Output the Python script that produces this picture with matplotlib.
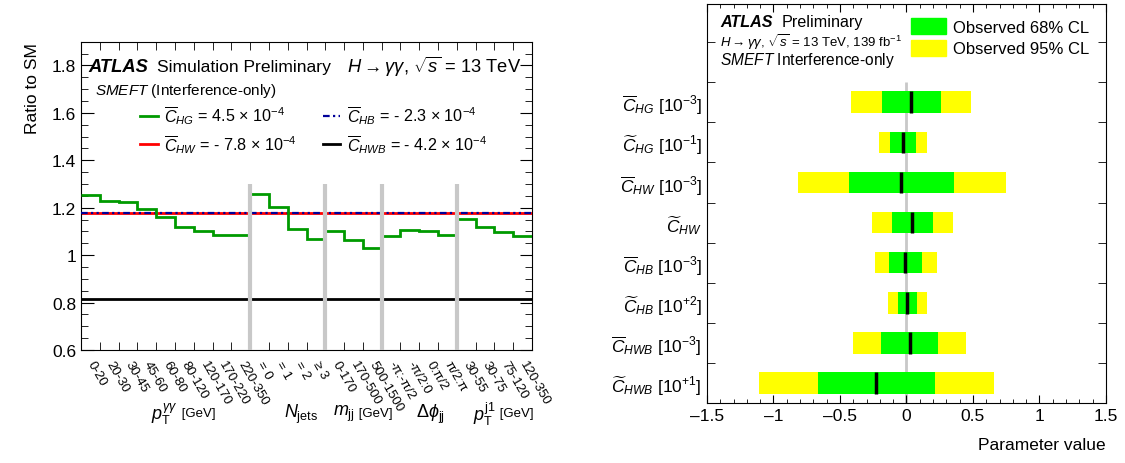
import numpy as np
import matplotlib
matplotlib.use("Agg")
import matplotlib.pyplot as plt
from matplotlib.lines import Line2D
from matplotlib.patches import Patch
from matplotlib.ticker import MultipleLocator, FixedLocator, FuncFormatter

plt.rcParams['font.family'] = ['Liberation Sans', 'DejaVu Sans']
plt.rcParams['mathtext.fontset'] = 'custom'
plt.rcParams['mathtext.rm'] = 'Liberation Sans'
plt.rcParams['mathtext.it'] = 'Liberation Sans:italic'
plt.rcParams['mathtext.bf'] = 'Liberation Sans:bold'

# --- painel esquerdo: razao ao SM por bin ---
bin_labels = ['0-20', '20-30', '30-45', '45-60', '60-80', '80-120', '120-170',
              '170-220', '220-350', '= 0', '= 1', '= 2', '\u2265 3',
              '0-170', '170-500', '500-1500', '-\u03c0:-\u03c0/2', '-\u03c0/2:0',
              '0:\u03c0/2', '\u03c0/2:\u03c0', '30-55', '30-75', '75-120', '120-350']
group_sizes = [9, 4, 3, 4, 4]
ratio_chg = [1.255, 1.227, 1.224, 1.193, 1.161, 1.120, 1.103, 1.087, 1.084,
             1.258, 1.202, 1.111, 1.066,
             1.101, 1.065, 1.031,
             1.082, 1.106, 1.103, 1.086,
             1.153, 1.117, 1.097, 1.082]
ratio_chw = 1.177
ratio_chb = 1.177
ratio_chwb = 0.815

# --- painel direito: intervalos dos parametros ---
param_labels = [r'$\overline{C}_{HG}$ [10$^{-3}$]', r'$\widetilde{C}_{HG}$ [10$^{-1}$]',
                r'$\overline{C}_{HW}$ [10$^{-3}$]', r'$\widetilde{C}_{HW}$',
                r'$\overline{C}_{HB}$ [10$^{-3}$]', r'$\widetilde{C}_{HB}$ [10$^{+2}$]',
                r'$\overline{C}_{HWB}$ [10$^{-3}$]', r'$\widetilde{C}_{HWB}$ [10$^{+1}$]']
best_fit = [0.032, -0.028, -0.038, 0.042, -0.008, 0.005, 0.023, -0.229]
cl68_lo = [-0.186, -0.121, -0.430, -0.108, -0.128, -0.063, -0.188, -0.668]
cl68_hi = [0.258, 0.068, 0.356, 0.198, 0.115, 0.078, 0.236, 0.216]
cl95_lo = [-0.420, -0.209, -0.819, -0.259, -0.239, -0.138, -0.400, -1.108]
cl95_hi = [0.485, 0.153, 0.748, 0.350, 0.228, 0.153, 0.447, 0.658]

fig = plt.figure(figsize=(11.25, 4.64), dpi=100)

# ================= painel esquerdo =================
ax = fig.add_axes([0.072, 0.2435, 0.4009, 0.6645])
nbins = len(bin_labels)
edges = np.arange(nbins + 1)
centers = edges[:-1] + 0.5

ax.hlines(ratio_chwb, 0, nbins, color='black', lw=2, zorder=2)
ax.hlines(ratio_chw, 0, nbins, color='#ff0000', lw=2, zorder=2)
ax.hlines(ratio_chb, 0, nbins, color='#000099', lw=1.6,
          linestyles=[(0, (3, 1.5, 1, 1.5, 1, 1.5))], zorder=3)
ax.stairs(ratio_chg, edges, baseline=None, color='#009a00', lw=2, zorder=4)

seps = np.cumsum(group_sizes)[:-1]
ax.vlines(seps, 0.6, 1.30, color='#c8c8c8', lw=3, zorder=5)

ax.set_xlim(0, nbins)
ax.set_ylim(0.6, 1.9)
ax.set_xticks(centers)
ax.set_xticklabels(bin_labels, rotation=-60, ha='left', va='center',
                   rotation_mode='anchor', fontsize=9.5)
ax.xaxis.set_minor_locator(FixedLocator(edges[1:-1]))
ax.tick_params(axis='x', which='major', length=0, pad=8)
ax.tick_params(axis='x', which='minor', direction='in', length=6, top=True, bottom=True)
ax.yaxis.set_major_locator(MultipleLocator(0.2))
ax.yaxis.set_minor_locator(MultipleLocator(0.05))
ax.yaxis.set_major_formatter(FuncFormatter(lambda v, p: '%g' % round(v, 2)))
ax.tick_params(axis='y', which='major', direction='in', length=9, right=True, labelsize=12.5)
ax.tick_params(axis='y', which='minor', direction='in', length=5, right=True)
ax.set_ylabel('Ratio to SM', fontsize=12.5, loc='top')
ax.yaxis.set_label_coords(-0.09, 1.0)

ax.text(0.0155, 0.921, 'ATLAS', transform=ax.transAxes, fontsize=13.2,
        fontweight='bold', fontstyle='italic', va='center')
ax.text(0.168, 0.921, 'Simulation Preliminary', transform=ax.transAxes,
        fontsize=12.6, va='center')
ax.text(0.975, 0.921, r'$H \rightarrow \gamma\gamma$, $\sqrt{s}$ = 13 TeV',
        transform=ax.transAxes, fontsize=13.2, va='center', ha='right')
ax.text(0.031, 0.843, r'$SMEFT$ (Interference-only)', transform=ax.transAxes,
        fontsize=11, va='center')

handles = [Line2D([], [], color='#009a00', lw=2),
           Line2D([], [], color='#ff0000', lw=2),
           Line2D([], [], color='#000099', lw=1.6, ls=(0, (3, 1.5, 1, 1.5, 1, 1.5))),
           Line2D([], [], color='black', lw=2)]
labels = [r'$\overline{C}_{HG}$ = 4.5 $\times$ 10$^{-4}$',
          r'$\overline{C}_{HW}$ = - 7.8 $\times$ 10$^{-4}$',
          r'$\overline{C}_{HB}$ = - 2.3 $\times$ 10$^{-4}$',
          r'$\overline{C}_{HWB}$ = - 4.2 $\times$ 10$^{-4}$']
ax.legend(handles, labels, ncol=2, frameon=False, fontsize=11.6,
          loc='upper left', bbox_to_anchor=(0.131, 0.799), borderpad=0,
          borderaxespad=0, handlelength=1.1, handletextpad=0.4,
          columnspacing=1.6, labelspacing=0.35)

gy = -0.205
ax.text(5.16, gy, r'$p_{\rm T}^{\gamma\gamma}$', transform=ax.get_xaxis_transform(),
        fontsize=13, ha='right', va='center')
ax.text(5.16, gy, ' [GeV]', transform=ax.get_xaxis_transform(),
        fontsize=9.5, ha='left', va='center')
ax.text(11.7, gy, r'$N_{\rm jets}$', transform=ax.get_xaxis_transform(),
        fontsize=13, ha='center', va='center')
ax.text(14.57, gy, r'$m_{\rm jj}$', transform=ax.get_xaxis_transform(),
        fontsize=13, ha='right', va='center')
ax.text(14.57, gy, ' [GeV]', transform=ax.get_xaxis_transform(),
        fontsize=9.5, ha='left', va='center')
ax.text(18.6, gy, r'$\Delta\phi_{\rm jj}$', transform=ax.get_xaxis_transform(),
        fontsize=13, ha='center', va='center')
ax.text(22.07, gy, r'$p_{\rm T}^{\rm j1}$', transform=ax.get_xaxis_transform(),
        fontsize=13, ha='right', va='center')
ax.text(22.07, gy, ' [GeV]', transform=ax.get_xaxis_transform(),
        fontsize=9.5, ha='left', va='center')

# ================= painel direito =================
ax2 = fig.add_axes([0.6284, 0.1293, 0.3547, 0.8599])
nparam = len(param_labels)
ys = np.arange(nparam)[::-1] + 0.5
h = 0.54
lo95, hi95 = np.array(cl95_lo), np.array(cl95_hi)
lo68, hi68 = np.array(cl68_lo), np.array(cl68_hi)

ax2.vlines(0, 0, nparam, color='#c8c8c8', lw=2, zorder=0)
ax2.barh(ys, hi95 - lo95, left=lo95, height=h, color='#ffff00', zorder=2)
ax2.barh(ys, hi68 - lo68, left=lo68, height=h, color='#00ff00', zorder=3)
ax2.vlines(best_fit, ys - h / 2, ys + h / 2, color='black', lw=2.5, zorder=4)

ax2.set_xlim(-1.5, 1.5)
ax2.set_ylim(0, 9.95)
ax2.set_yticks(ys)
ax2.set_yticklabels(param_labels, fontsize=12.5)
ax2.yaxis.set_minor_locator(FixedLocator(np.arange(0, 10)))
ax2.tick_params(axis='y', which='major', length=0, pad=3.5)
ax2.tick_params(axis='y', which='minor', direction='in', length=6, right=True)
ax2.xaxis.set_major_locator(MultipleLocator(0.5))
ax2.xaxis.set_minor_locator(MultipleLocator(0.1))
ax2.xaxis.set_major_formatter(FuncFormatter(lambda v, p: '%g' % round(v, 2) if v >= 0 else '\u2013%g' % round(-v, 2)))
ax2.tick_params(axis='x', which='major', direction='in', length=6, top=True, labelsize=12.5)
ax2.tick_params(axis='x', which='minor', direction='in', length=3, top=True)
ax2.set_xlabel('Parameter value', fontsize=12.5, loc='right')
ax2.xaxis.set_label_coords(1.0, -0.085)

ax2.text(0.033, 0.957, 'ATLAS', transform=ax2.transAxes, fontsize=11.6,
         fontweight='bold', fontstyle='italic', va='center')
ax2.text(0.188, 0.957, 'Preliminary', transform=ax2.transAxes, fontsize=11.6, va='center')
ax2.text(0.033, 0.907, r'$H \rightarrow \gamma\gamma$, $\sqrt{s}$ = 13 TeV, 139 fb$^{-1}$',
         transform=ax2.transAxes, fontsize=9.5, va='center')
ax2.text(0.033, 0.862, r'$SMEFT$ Interference-only', transform=ax2.transAxes,
         fontsize=11.2, va='center')

leg_handles = [Patch(color='#00ff00'), Patch(color='#ffff00')]
ax2.legend(leg_handles, ['Observed 68% CL', 'Observed 95% CL'], frameon=False,
           fontsize=12, loc='upper left', bbox_to_anchor=(0.511, 0.965),
           borderpad=0, borderaxespad=0, handlelength=2.1, handleheight=1.1,
           handletextpad=0.4, labelspacing=0.3)

fig.savefig('out.png', dpi=100)
